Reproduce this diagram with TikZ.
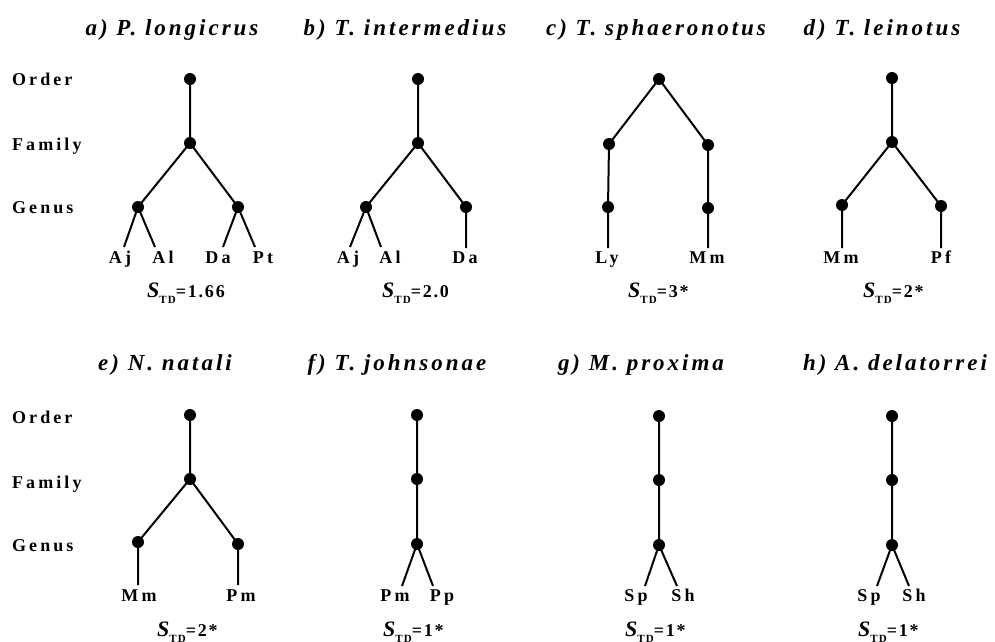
\documentclass[tikz,border=0pt]{standalone}
\usepackage{fontspec}
\setmainfont{Liberation Serif}
\newfontfamily\spaced[LetterSpace=17]{Liberation Serif}
\newfontfamily\spacedt[LetterSpace=13]{Liberation Serif}
\newfontfamily\spacedn[LetterSpace=10]{Liberation Serif}
\begin{document}
\begin{tikzpicture}[x=1pt,y=-1pt,
  dot/.style={circle,fill=black,inner sep=0pt,minimum size=12pt},
  edge/.style={line width=2pt},
  ttl/.style={anchor=base,inner sep=0pt,font=\fontsize{23}{25}\selectfont\spacedt\bfseries\itshape},
  rowlbl/.style={anchor=base west,inner sep=0pt,font=\fontsize{18}{20}\selectfont\spaced\bfseries},
  leaf/.style={anchor=base,inner sep=0pt,font=\fontsize{18}{20}\selectfont\spaced\bfseries},
  std/.style={anchor=base west,inner sep=0pt,font=\fontsize{18}{20}\selectfont\spacedn\bfseries}]
\useasboundingbox (0,0) rectangle (995,641);
\newcommand{\Std}[1]{{\fontsize{22}{24}\selectfont\bfseries\itshape S}\raisebox{-6pt}{\fontsize{11}{12}\selectfont\bfseries TD}=#1}

% titles
\node[ttl] (ta) at (172,35) {a) P. longicrus};
\node[ttl] (tb) at (405,35) {b) T. intermedius};
\node[ttl] (tc) at (656,35) {c) T. sphaeronotus};
\node[ttl] (td) at (882,35) {d) T. leinotus};
\node[ttl] (te) at (165,370) {e) N. natali};
\node[ttl] (tf) at (397,370) {f) T. johnsonae};
\node[ttl] (tg) at (641,370) {g) M. proxima};
\node[ttl] (th) at (895,370) {h) A. delatorrei};

% row labels
\node[rowlbl] (o1) at (12,85) {Order};
\node[rowlbl] (f1) at (12,150) {Family};
\node[rowlbl] (g1) at (12,213) {Genus};
\node[rowlbl] (o2) at (12,423) {Order};
\node[rowlbl] (f2) at (12,488) {Family};
\node[rowlbl] (g2) at (12,551) {Genus};

% ---- a
\node[dot] (a0) at (190,79) {};
\node[dot] (a1) at (190,143) {};
\node[dot] (a2) at (138,207) {};
\node[dot] (a3) at (238,207) {};
\coordinate (ae1) at (124,247); \coordinate (ae2) at (155,247);
\coordinate (ae3) at (223,247); \coordinate (ae4) at (255,247);
\draw[edge] (a0.center)--(a1.center) (a1.center)--(a2.center) (a1.center)--(a3.center)
  (a2.center)--(ae1) (a2.center)--(ae2) (a3.center)--(ae3) (a3.center)--(ae4);
\node[leaf] (al1) at (120,263) {Aj};
\node[leaf] (al2) at (163,263) {Al};
\node[leaf] (al3) at (218,263) {Da};
\node[leaf] (al4) at (263,263) {Pt};
\node[std] (as) at (147,297) {\Std{1.66}};

% ---- b
\node[dot] (b0) at (418,79) {};
\node[dot] (b1) at (418,143) {};
\node[dot] (b2) at (366,207) {};
\node[dot] (b3) at (466,207) {};
\coordinate (be1) at (350,247); \coordinate (be2) at (381,247); \coordinate (be3) at (466,248);
\draw[edge] (b0.center)--(b1.center) (b1.center)--(b2.center) (b1.center)--(b3.center)
  (b2.center)--(be1) (b2.center)--(be2) (b3.center)--(be3);
\node[leaf] (bl1) at (348,263) {Aj};
\node[leaf] (bl2) at (390,263) {Al};
\node[leaf] (bl3) at (465,263) {Da};
\node[std] (bs) at (382,297) {\Std{2.0}};

% ---- c
\node[dot] (c0) at (659,79) {};
\node[dot] (c1) at (609,144) {};
\node[dot] (c2) at (708,145) {};
\node[dot] (c3) at (608,207) {};
\node[dot] (c4) at (708,208) {};
\coordinate (ce1) at (608,248); \coordinate (ce2) at (708,248);
\draw[edge] (c0.center)--(c1.center) (c0.center)--(c2.center) (c1.center)--(c3.center)
  (c2.center)--(c4.center) (c3.center)--(ce1) (c4.center)--(ce2);
\node[leaf] (cl1) at (607,263) {Ly};
\node[leaf] (cl2) at (707,263) {Mm};
\node[std] (cs) at (628,297) {\Std{3*}};

% ---- d
\node[dot] (d0) at (892,78) {};
\node[dot] (d1) at (892,142) {};
\node[dot] (d2) at (842,205) {};
\node[dot] (d3) at (941,206) {};
\coordinate (de1) at (842,248); \coordinate (de2) at (941,248);
\draw[edge] (d0.center)--(d1.center) (d1.center)--(d2.center) (d1.center)--(d3.center)
  (d2.center)--(de1) (d3.center)--(de2);
\node[leaf] (dl1) at (841,263) {Mm};
\node[leaf] (dl2) at (941,263) {Pf};
\node[std] (ds) at (863,297) {\Std{2*}};

% ---- e
\node[dot] (e0) at (190,415) {};
\node[dot] (e1) at (190,479) {};
\node[dot] (e2) at (138,542) {};
\node[dot] (e3) at (238,544) {};
\coordinate (ee1) at (138,585); \coordinate (ee2) at (238,585);
\draw[edge] (e0.center)--(e1.center) (e1.center)--(e2.center) (e1.center)--(e3.center)
  (e2.center)--(ee1) (e3.center)--(ee2);
\node[leaf] (el1) at (139,601) {Mm};
\node[leaf] (el2) at (241,601) {Pm};
\node[std] (es) at (157,636) {\Std{2*}};

% ---- f
\node[dot] (f0) at (417,415) {};
\node[dot] (f1) at (417,479) {};
\node[dot] (f2) at (417,544) {};
\coordinate (fe1) at (402,586); \coordinate (fe2) at (433,586);
\draw[edge] (f0.center)--(f1.center) (f1.center)--(f2.center) (f2.center)--(fe1) (f2.center)--(fe2);
\node[leaf] (fl1) at (395,601) {Pm};
\node[leaf] (fl2) at (442,601) {Pp};
\node[std] (fs) at (383,636) {\Std{1*}};

% ---- g
\node[dot] (g0) at (659,416) {};
\node[dot] (g1) at (659,480) {};
\node[dot] (g2) at (659,545) {};
\coordinate (ge1) at (645,586); \coordinate (ge2) at (677,586);
\draw[edge] (g0.center)--(g1.center) (g1.center)--(g2.center) (g2.center)--(ge1) (g2.center)--(ge2);
\node[leaf] (gl1) at (636,601) {Sp};
\node[leaf] (gl2) at (683,601) {Sh};
\node[std] (gs) at (625,636) {\Std{1*}};

% ---- h
\node[dot] (h0) at (892,416) {};
\node[dot] (h1) at (892,480) {};
\node[dot] (h2) at (892,545) {};
\coordinate (he1) at (877,586); \coordinate (he2) at (909,586);
\draw[edge] (h0.center)--(h1.center) (h1.center)--(h2.center) (h2.center)--(he1) (h2.center)--(he2);
\node[leaf] (hl1) at (869,601) {Sp};
\node[leaf] (hl2) at (914,601) {Sh};
\node[std] (hs) at (858,636) {\Std{1*}};
\end{tikzpicture}
\end{document}
